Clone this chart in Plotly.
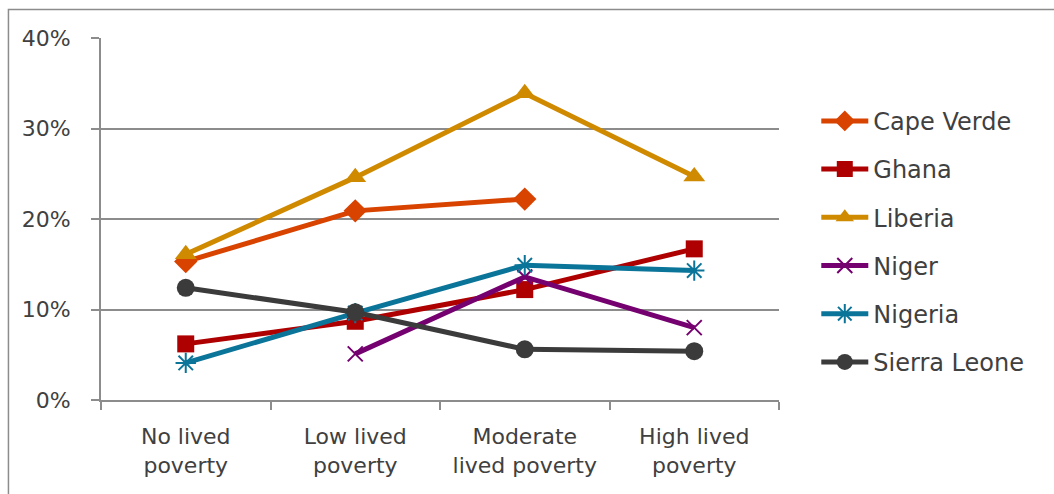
import plotly.graph_objects as go

categories = ["No lived<br>poverty", "Low lived<br>poverty", "Moderate<br>lived poverty", "High lived<br>poverty"]

cape_verde = [0.153, 0.209, 0.222, None]
ghana = [0.062, 0.087, 0.122, 0.167]
liberia = [0.161, 0.246, 0.339, 0.247]
niger = [None, 0.051, 0.136, 0.080]
nigeria = [0.041, 0.096, 0.149, 0.143]
sierra_leone = [0.124, 0.097, 0.056, 0.054]

series = [
    ("Cape Verde", cape_verde, "#D84300", dict(symbol="diamond", size=18)),
    ("Ghana", ghana, "#AE0000", dict(symbol="square", size=17)),
    ("Liberia", liberia, "#CF8A00", dict(symbol="triangle-up", size=19)),
    ("Niger", niger, "#75006F", dict(symbol="x-thin-open", size=15, line=dict(width=2))),
    ("Nigeria", nigeria, "#0A7499", dict(symbol="asterisk-open", size=17, line=dict(width=2))),
    ("Sierra Leone", sierra_leone, "#3B3B3B", dict(symbol="circle", size=18)),
]

font_family = "'DejaVu Sans', sans-serif"
text_color = "#404040"
grid_color = "#8C8C8C"

fig = go.Figure()
for name, values, color, marker in series:
    mk = dict(marker)
    mk["color"] = color
    if "line" in mk:
        mk["line"] = dict(mk["line"], color=color)
    fig.add_trace(go.Scatter(
        x=categories, y=values, name=name, legendgroup=name,
        mode="lines+markers",
        line=dict(color=color, width=5),
        marker=mk,
        connectgaps=False,
    ))

# outer chart frame
fig.add_shape(type="rect", xref="paper", yref="paper",
              x0=-0.1365, x1=1.6, y0=-0.5, y1=1.079,
              line=dict(color="#8C8C8C", width=1.5), layer="below")

fig.update_layout(
    width=1054, height=494,
    margin=dict(l=101, r=275, t=38, b=94),
    paper_bgcolor="white", plot_bgcolor="white",
    font=dict(family=font_family, size=22, color=text_color),
    showlegend=True,
    legend=dict(
        x=1.055, y=0.832, xanchor="left", yanchor="top",
        font=dict(size=24, color=text_color),
        tracegroupgap=14,
        itemwidth=47,
        bgcolor="rgba(0,0,0,0)",
    ),
    xaxis=dict(
        type="category",
        showgrid=False,
        showline=True, linecolor=grid_color, linewidth=2,
        ticks="outside", tickson="boundaries", ticklen=8,
        tickcolor=grid_color, tickwidth=2,
        ticklabelstandoff=16,
        tickfont=dict(size=22, color=text_color),
        range=[-0.5, 3.5],
    ),
    yaxis=dict(
        range=[0, 0.4], dtick=0.1, tickformat=".0%",
        showgrid=True, gridcolor=grid_color, gridwidth=2,
        showline=True, linecolor=grid_color, linewidth=2,
        ticks="outside", ticklen=8, tickcolor=grid_color, tickwidth=2,
        ticklabelstandoff=16,
        tickfont=dict(size=22, color=text_color),
        zeroline=False,
    ),
)

fig.write_html("out.html")
